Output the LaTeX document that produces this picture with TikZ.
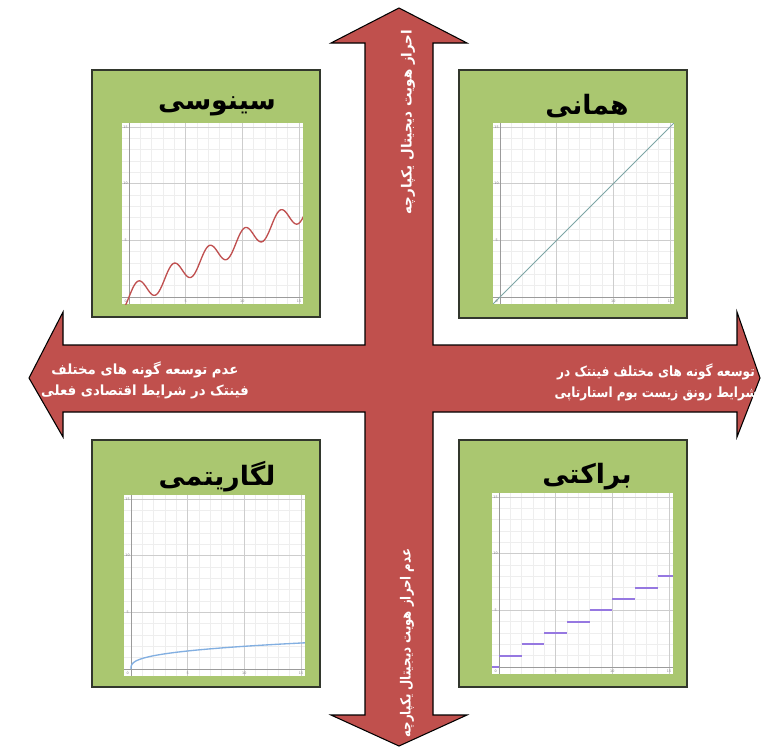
\documentclass[tikz,border=0pt]{standalone}
\usepackage{fontspec}
\setmainfont{DejaVu Sans}
\newfontfamily\fa[Script=Arabic]{DejaVu Sans}
\TeXXeTstate=1
\definecolor{arrowred}{RGB}{192,80,77}
\definecolor{boxgreen}{RGB}{170,199,112}
\definecolor{boxline}{RGB}{50,55,45}
\definecolor{gridminor}{RGB}{238,238,238}
\definecolor{gridmajor}{RGB}{205,205,205}
\definecolor{axisgray}{RGB}{155,155,155}
\definecolor{sinered}{RGB}{192,80,80}
\definecolor{idline}{RGB}{125,165,165}
\definecolor{logblue}{RGB}{130,175,225}
\definecolor{steppurple}{RGB}{150,120,225}
\tikzset{
  crossarrow/.style={fill=arrowred,draw=black,line width=0.8pt,line join=miter},
  greenbox/.style={fill=boxgreen,draw=boxline,line width=1.1pt},
  title/.style={font=\fa\bfseries\fontsize{20}{24}\selectfont,text=black},
  arrowtext/.style={font=\fa\bfseries\fontsize{10.5}{16}\selectfont,text=white,inner sep=0pt},
  vtext/.style={font=\fa\bfseries\fontsize{10.5}{12}\selectfont,text=white,rotate=90,inner sep=0pt},
  ticklab/.style={font=\fontsize{2.5}{3}\selectfont,text=gray,inner sep=0pt},
  stepline/.style={steppurple,line width=1.5pt}
}
\newcommand\sqz[2]{\scalebox{#1}[1]{#2}}
\newcommand\gridplot[4]{%
\begin{scope}[shift={(#1,#2)},x=8.5pt,y=8.5pt]
  \fill[white] (-0.6,-0.65) rectangle (15.35,15.35);
  \begin{scope}
    \clip (-0.6,-0.65) rectangle (15.35,15.35);
    \draw[gridminor,line width=0.4pt] (-0.6,-0.65) grid[step=1] (15.35,15.35);
    \draw[gridmajor,line width=0.6pt] (-0.6,-0.65) grid[step=5] (15.35,15.35);
    \draw[axisgray,line width=0.7pt] (0,-0.65)--(0,15.35) (-0.6,0)--(15.35,0);
    #3
  \end{scope}
  \node[ticklab] (#4x5) at (5,-0.35) {5};
  \node[ticklab] (#4x10) at (10,-0.35) {10};
  \node[ticklab] (#4x15) at (15,-0.35) {15};
  \node[ticklab] (#4y5) at (-0.3,5) {5};
  \node[ticklab] (#4y10) at (-0.3,10) {10};
  \node[ticklab] (#4y15) at (-0.3,15) {15};
  \node[ticklab] (#4o) at (-0.3,-0.35) {0};
\end{scope}}
\begin{document}
\begin{tikzpicture}[x=0.75pt,y=-0.75pt]
\useasboundingbox (0,0) rectangle (761,747);
% cross arrow
\draw[crossarrow] (399,8) -- (467,43) -- (433,43) -- (433,345) -- (737,345) -- (737,312)
  -- (760,378) -- (737,437) -- (737,412) -- (433,412) -- (433,715) -- (467,715)
  -- (399,746) -- (331,715) -- (365,715) -- (365,412) -- (63,412) -- (63,437)
  -- (29,378) -- (63,312) -- (63,345) -- (365,345) -- (365,43) -- (331,43) -- cycle;
% green boxes
\draw[greenbox] (92,70) rectangle (320,317);
\draw[greenbox] (459,70) rectangle (687,318);
\draw[greenbox] (92,440) rectangle (320,687);
\draw[greenbox] (459,440) rectangle (687,687);
% plots
\gridplot{129}{297}{\draw[sinered,line width=1pt,domain=-0.5:15.4,samples=220,smooth] plot (\x,{\x/2+sin(2*\x r)});}{pa}
\gridplot{500}{297}{\draw[idline,line width=0.7pt] (-0.6,-0.6)--(15.4,15.4);}{pb}
\gridplot{131}{669}{\draw[logblue,line width=1pt,domain=0:2.49,samples=120,smooth] plot ({\x*\x*\x},{0.93*\x});}{pc}
\gridplot{499}{667}{%
  \draw[stepline] (-0.6,0)--(0,0);
  \foreach \i in {0,...,7}{\draw[stepline] ({2*\i},{\i+1})--({2*\i+2},{\i+1});}}{pd}
% titles
\node[title] (tsin) at (217,106) {\beginR سینوسی\endR};
\node[title] (tid) at (587,106) {\beginR همانی\endR};
\node[title] (tlog) at (217,477) {\beginR لگاریتمی\endR};
\node[title] (tstep) at (587,477) {\beginR براکتی\endR};
% arrow labels
\node[arrowtext] (lefttxt) at (145,381) {\scalebox{0.95}[1]{\begin{tabular}{@{}c@{}}
\beginR عدم توسعه گونه های مختلف\endR\\
\beginR فینتک در شرایط اقتصادی فعلی\endR
\end{tabular}}};
\node[arrowtext] (righttxt) at (656,383) {\scalebox{0.86}[1]{\begin{tabular}{@{}c@{}}
\beginR توسعه گونه های مختلف فینتک در\endR\\
\beginR شرایط رونق زیست بوم استارتاپی\endR
\end{tabular}}};
\node[vtext] (toptxt) at (408,122) {\sqz{0.96}{\beginR احراز هویت دیجیتال یکپارچه\endR}};
\node[vtext] (bottxt) at (407,643) {\sqz{0.84}{\beginR عدم احراز هویت دیجیتال یکپارچه\endR}};
\end{tikzpicture}
\end{document}
